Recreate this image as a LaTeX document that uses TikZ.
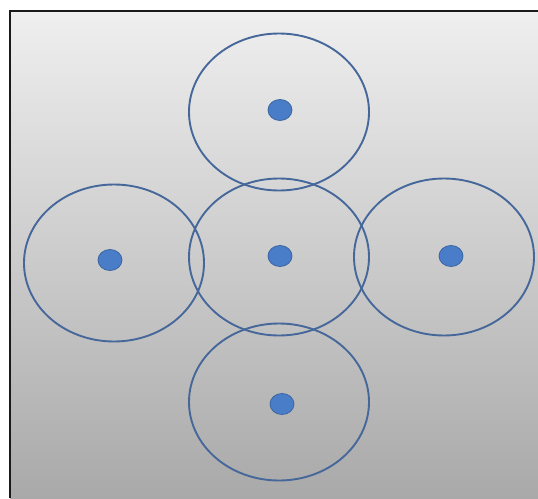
\documentclass[tikz,border=0pt]{standalone}
\usepackage{tikz}
\usetikzlibrary{shapes.geometric}
\definecolor{ink}      {HTML}{1A1A1A}
\definecolor{cellline} {HTML}{46679A}
\definecolor{sitefill} {HTML}{4A7DC8}
\definecolor{siteline} {HTML}{3A64A2}
\definecolor{bgtop}    {HTML}{EFEFEF}
\definecolor{bgbottom} {HTML}{A9A9A9}
\tikzset{
  cell/.style={ellipse,draw=cellline,line width=1.9pt,minimum width=180pt,minimum height=157pt,inner sep=0pt},
  site/.style={ellipse,fill=sitefill,draw=siteline,line width=0.8pt,minimum width=24pt,minimum height=21pt,inner sep=0pt}
}
\begin{document}
\begin{tikzpicture}[x=1pt,y=-1pt]
  \useasboundingbox (0,0) rectangle (538,498);
  % background panel
  \shade[top color=bgtop,bottom color=bgbottom] (10,11) rectangle (538,498);
  \draw[ink,line width=2pt] (10,498) -- (10,11) -- (538,11);
  % coverage cells
  \node[cell] (cellN) at (279,112) {};
  \node[cell] (cellC) at (279,257) {};
  \node[cell] (cellW) at (114,263) {};
  \node[cell] (cellE) at (444,257) {};
  \node[cell] (cellS) at (279,402) {};
  % sites
  \node[site] (siteN) at (280,110) {};
  \node[site] (siteC) at (280,256) {};
  \node[site] (siteW) at (110,260) {};
  \node[site] (siteE) at (451,256) {};
  \node[site] (siteS) at (282,404) {};
\end{tikzpicture}
\end{document}
